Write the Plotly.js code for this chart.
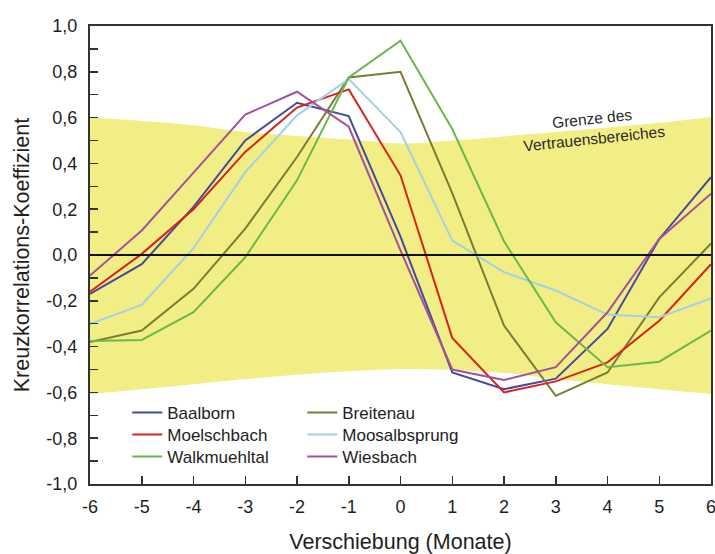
<!DOCTYPE html>
<html>
<head>
<meta charset="utf-8">
<script src="https://cdn.plot.ly/plotly-3.0.1.min.js"></script>
<style>html,body{margin:0;padding:0;background:#fff;}#chart{width:715px;height:554px;}</style>
</head>
<body>
<div id="chart"></div>
<script>
// Lags (months)
const lags = [-6, -5, -4, -3, -2, -1, 0, 1, 2, 3, 4, 5, 6];

// Cross-correlation coefficients per station
const baalborn      = [-0.17, -0.04, 0.21, 0.50, 0.665, 0.607, 0.08, -0.513, -0.586, -0.54, -0.323, 0.07, 0.34];
const breitenau     = [-0.38, -0.33, -0.148, 0.115, 0.428, 0.775, 0.80, 0.27, -0.308, -0.615, -0.513, -0.185, 0.05];
const moelschbach   = [-0.16, 0.005, 0.20, 0.45, 0.644, 0.723, 0.348, -0.362, -0.60, -0.552, -0.469, -0.287, -0.04];
const moosalbsprung = [-0.30, -0.218, 0.03, 0.362, 0.61, 0.768, 0.537, 0.063, -0.075, -0.155, -0.26, -0.272, -0.19];
const walkmuehltal  = [-0.375, -0.371, -0.25, -0.01, 0.326, 0.775, 0.936, 0.55, 0.06, -0.294, -0.49, -0.466, -0.33];
const wiesbach      = [-0.09, 0.107, 0.36, 0.613, 0.713, 0.56, 0.02, -0.50, -0.546, -0.49, -0.25, 0.07, 0.268];

// Confidence band limits
const bandUpper = [0.60, 0.585, 0.567, 0.537, 0.52, 0.504, 0.487, 0.50, 0.518, 0.537, 0.557, 0.577, 0.603];
const bandLower = [-0.607, -0.586, -0.564, -0.542, -0.523, -0.508, -0.498, -0.502, -0.515, -0.542, -0.564, -0.586, -0.607];

// Tick labels
const yTickVals = [-1, -0.8, -0.6, -0.4, -0.2, 0, 0.2, 0.4, 0.6, 0.8, 1];
const yTickText = ["-1,0", "-0,8", "-0,6", "-0,4", "-0,2", "0,0", "0,2", "0,4", "0,6", "0,8", "1,0"];
const xTickVals = lags;
const xTickText = ["-6", "-5", "-4", "-3", "-2", "-1", "0", "1", "2", "3", "4", "5", "6"];

const FONT = "Liberation Sans, Arial, Helvetica, sans-serif";
const TXT = "#1e1e1e";

function series(name, y, color, legend) {
  return {
    type: "scatter", mode: "lines", name: name, x: lags, y: y,
    line: {color: color, width: 2}, legend: legend, hoverinfo: "skip"
  };
}

const data = [
  {type: "scatter", mode: "lines", x: lags, y: bandUpper, line: {width: 0, shape: "spline", color: "#f2ee86"},
   showlegend: false, hoverinfo: "skip"},
  {type: "scatter", mode: "lines", x: lags, y: bandLower, line: {width: 0, shape: "spline", color: "#f2ee86"},
   fill: "tonexty", fillcolor: "#f2ee86", showlegend: false, hoverinfo: "skip"},
  series("Baalborn", baalborn, "#454a9c", "legend"),
  series("Breitenau", breitenau, "#787d34", "legend"),
  series("Moelschbach", moelschbach, "#d4241c", "legend2"),
  series("Moosalbsprung", moosalbsprung, "#a6d0e2", "legend2"),
  series("Walkmuehltal", walkmuehltal, "#6bb84a", "legend3"),
  series("Wiesbach", wiesbach, "#a2529c", "legend3")
];

const legendCommon = {
  orientation: "h", xanchor: "left", yanchor: "middle", traceorder: "normal",
  bgcolor: "rgba(0,0,0,0)", borderwidth: 0, entrywidth: 130, entrywidthmode: "pixels",
  font: {family: FONT, size: 17, color: TXT},
  itemclick: false, itemdoubleclick: false
};

const layout = {
  width: 715, height: 554,
  margin: {l: 90, r: 4, t: 26, b: 70},
  paper_bgcolor: "#ffffff", plot_bgcolor: "#ffffff",
  font: {family: FONT, color: TXT},
  xaxis: {
    range: [-6, 6], tickvals: xTickVals, ticktext: xTickText,
    ticks: "inside", ticklen: 8, tickwidth: 1.5, tickcolor: "#333",
    showline: true, linecolor: "#333", linewidth: 2, mirror: true,
    showgrid: false, zeroline: false, ticklabeloverflow: "allow",
    tickfont: {family: FONT, size: 18, color: TXT}, ticklabelstandoff: 5,
    title: {text: "Verschiebung (Monate)", font: {family: FONT, size: 21.5, color: TXT}, standoff: 19}
  },
  yaxis: {
    range: [-1, 1], tickvals: yTickVals, ticktext: yTickText,
    ticks: "inside", ticklen: 8, tickwidth: 1.5, tickcolor: "#333",
    minor: {dtick: 0.1, tick0: 0, ticks: "inside", ticklen: 8, tickwidth: 1.5, tickcolor: "#333", showgrid: false},
    showline: true, linecolor: "#333", linewidth: 2, mirror: true,
    showgrid: false, zeroline: false,
    tickfont: {family: FONT, size: 18, color: TXT}, ticklabelstandoff: 7,
    title: {text: "Kreuzkorrelations-Koeffizient", font: {family: FONT, size: 21.5, color: TXT}, standoff: 11}
  },
  shapes: [
    {type: "line", xref: "paper", yref: "y", x0: 0, x1: 1, y0: 0, y1: 0,
     line: {color: "#111", width: 2}, layer: "above"}
  ],
  annotations: [
    {xref: "x", yref: "y", x: 3.72, y: 0.551, text: "Grenze des<br>Vertrauensbereiches",
     showarrow: false, textangle: -6, font: {family: FONT, size: 15.5, color: "#2a2a2a"}, align: "center"}
  ],
  legend: Object.assign({}, legendCommon, {x: 0.06, y: 0.155}),
  legend2: Object.assign({}, legendCommon, {x: 0.06, y: 0.107}),
  legend3: Object.assign({}, legendCommon, {x: 0.06, y: 0.059}),
  showlegend: true
};

Plotly.newPlot("chart", data, layout, {staticPlot: true, displayModeBar: false});
</script>
</body>
</html>
